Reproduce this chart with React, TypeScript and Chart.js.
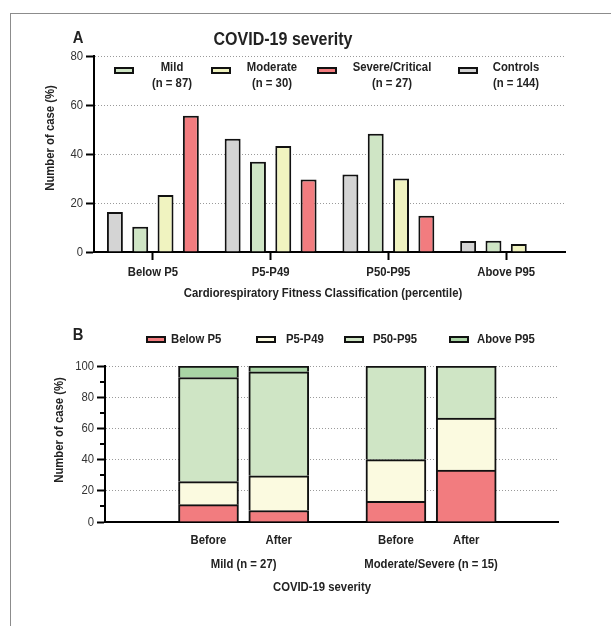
import React, { useEffect, useRef } from "react";
import { Chart, registerables } from "chart.js";

Chart.register(...registerables);

const FONT = "'Liberation Sans', Arial, 'DejaVu Sans', sans-serif";
const SQUEEZE = 0.87;

// ---------- Panel A data ----------
const fitnessCategories = ["Below P5", "P5-P49", "P50-P95", "Above P95"];
const controlsValues = [16.3, 46.2, 31.6, 4.5];
const mildValues = [10.3, 36.8, 48.3, 4.6];
const moderateValues = [23.3, 43.3, 30.0, 3.3];
const severeValues = [55.6, 29.6, 14.8, 0];
const panelAYMax = 80;
const panelAYStep = 20;

// ---------- Panel B data ----------
const timepointLabels = ["Before", "After", "Before", "After"];
const severityGroups = ["Mild (n = 27)", "Moderate/Severe (n = 15)"];
const belowP5Values = [11.1, 7.4, 13.3, 33.3];
const p5p49Values = [14.8, 22.2, 26.7, 33.3];
const p50p95Values = [66.7, 66.7, 60.0, 33.4];
const aboveP95Values = [7.4, 3.7, 0, 0];
const panelBYMax = 100;
const panelBYStep = 20;

// colours
const C_GRAY = "#d4d4d4";
const C_GREEN = "#cfe5c5";
const C_YELLOW = "#f0f3c0";
const C_RED = "#f27c7f";
const C_CREAM = "#fbfae0";
const C_DKGREEN = "#a9d5a5";
const EDGE = "#111111";

// layout of panel B bars on a linear axis (slot units)
const barSlot = (i: number) => 2 + Math.floor(i / 2) * 8 + (i % 2) * 3;
const groupCentre = (g: number) => 3.5 + g * 8;

type TextItem = {
  text: string;
  x: number;
  y: number;
  size?: number;
  bold?: boolean;
  align?: CanvasTextAlign;
  color?: string;
  rotate?: boolean;
  squeeze?: number;
};

function drawText(ctx: CanvasRenderingContext2D, t: TextItem) {
  ctx.save();
  ctx.font = `${t.bold === false ? "normal" : "bold"} ${t.size ?? 13}px ${FONT}`;
  ctx.fillStyle = t.color ?? "#222";
  ctx.textAlign = t.align ?? "center";
  ctx.textBaseline = "middle";
  ctx.translate(t.x, t.y);
  if (t.rotate) ctx.rotate(-Math.PI / 2);
  ctx.scale(t.squeeze ?? SQUEEZE, 1);
  ctx.fillText(t.text, 0, 0);
  ctx.restore();
}

function drawSwatch(ctx: CanvasRenderingContext2D, x: number, y: number, color: string) {
  ctx.save();
  ctx.fillStyle = color;
  ctx.fillRect(x, y, 20, 7);
  ctx.strokeStyle = EDGE;
  ctx.lineWidth = 2;
  ctx.strokeRect(x + 1, y + 1, 18, 5);
  ctx.restore();
}

function drawYTickLabels(ctx: CanvasRenderingContext2D, chart: any) {
  const ys = chart.scales.y;
  const left = chart.chartArea.left;
  ys.ticks.forEach((t: any, i: number) => {
    drawText(ctx, {
      text: String(t.value),
      x: left - 11,
      y: ys.getPixelForTick(i),
      bold: false,
      align: "right",
      color: "#333",
    });
  });
}

function yAxis(max: number, step: number, width: number) {
  return {
    min: 0,
    max,
    ticks: { stepSize: step, display: false },
    grid: {
      color: "#9a9a9a",
      lineWidth: 1,
      drawTicks: true,
      tickLength: 8,
      tickWidth: 2,
      tickColor: "#000",
      tickBorderDash: [],
    },
    border: { display: true, color: "#000", width: 2, dash: [1, 2] },
    afterFit: (s: any) => {
      s.width = width;
    },
  };
}

export default function App() {
  const refA = useRef<HTMLCanvasElement>(null);
  const refB = useRef<HTMLCanvasElement>(null);

  useEffect(() => {
    const decorA = {
      id: "decorA",
      afterDraw(chart: any) {
        const ctx = chart.ctx as CanvasRenderingContext2D;
        drawYTickLabels(ctx, chart);
        const xs = chart.scales.x;
        xs.ticks.forEach((t: any, i: number) => {
          drawText(ctx, { text: xs.getLabelForValue(t.value), x: xs.getPixelForTick(i), y: 272 });
        });
        drawText(ctx, { text: "A", x: 78, y: 38, size: 17 });
        drawText(ctx, { text: "COVID-19 severity", x: 283, y: 40, size: 18, squeeze: 0.89 });
        const legend = [
          { sx: 114, cx: 172, name: "Mild", n: "(n = 87)", color: C_GREEN },
          { sx: 211, cx: 272, name: "Moderate", n: "(n = 30)", color: C_YELLOW },
          { sx: 317, cx: 392, name: "Severe/Critical", n: "(n = 27)", color: C_RED },
          { sx: 458, cx: 516, name: "Controls", n: "(n = 144)", color: C_GRAY },
        ];
        for (const l of legend) {
          drawSwatch(ctx, l.sx, 67, l.color);
          drawText(ctx, { text: l.name, x: l.cx, y: 67 });
          drawText(ctx, { text: l.n, x: l.cx, y: 83 });
        }
        drawText(ctx, {
          text: "Cardiorespiratory Fitness Classification (percentile)",
          x: 323,
          y: 293,
        });
        drawText(ctx, { text: "Number of case (%)", x: 50, y: 138, rotate: true });
      },
    };

    const decorB = {
      id: "decorB",
      afterDraw(chart: any) {
        const ctx = chart.ctx as CanvasRenderingContext2D;
        const left = chart.chartArea.left;
        const ys = chart.scales.y;
        ctx.save();
        ctx.strokeStyle = "#000";
        ctx.lineWidth = 2;
        for (let v = panelBYStep / 2; v < panelBYMax; v += panelBYStep) {
          const y = Math.round(ys.getPixelForValue(v));
          ctx.beginPath();
          ctx.moveTo(left - 5, y);
          ctx.lineTo(left, y);
          ctx.stroke();
        }
        ctx.restore();
        drawYTickLabels(ctx, chart);
        const xs = chart.scales.x;
        xs.ticks.forEach((_t: any, i: number) => {
          drawText(ctx, { text: timepointLabels[i], x: xs.getPixelForTick(i), y: 235 });
        });
        drawText(ctx, { text: "B", x: 78, y: 30, size: 17 });
        const legend = [
          { sx: 146, tx: 171, name: "Below P5", color: C_RED },
          { sx: 256, tx: 286, name: "P5-P49", color: C_CREAM },
          { sx: 344, tx: 373, name: "P50-P95", color: C_GREEN },
          { sx: 449, tx: 477, name: "Above P95", color: C_DKGREEN },
        ];
        for (const l of legend) {
          drawSwatch(ctx, l.sx, 31, l.color);
          drawText(ctx, { text: l.name, x: l.tx, y: 34, align: "left" });
        }
        severityGroups.forEach((g, i) => {
          drawText(ctx, { text: g, x: xs.getPixelForValue(groupCentre(i)), y: 259 });
        });
        drawText(ctx, { text: "COVID-19 severity", x: 322, y: 282 });
        drawText(ctx, { text: "Number of case (%)", x: 59, y: 125, rotate: true });
      },
    };

    const barCommon = {
      borderColor: EDGE,
      borderWidth: 2,
      barPercentage: 0.63,
      categoryPercentage: 0.86,
    };

    const chartA = new Chart(refA.current as HTMLCanvasElement, {
      type: "bar",
      data: {
        labels: fitnessCategories,
        datasets: [
          { label: "Controls (n = 144)", data: controlsValues, backgroundColor: C_GRAY, ...barCommon },
          { label: "Mild (n = 87)", data: mildValues, backgroundColor: C_GREEN, ...barCommon },
          { label: "Moderate (n = 30)", data: moderateValues, backgroundColor: C_YELLOW, ...barCommon },
          { label: "Severe/Critical (n = 27)", data: severeValues, backgroundColor: C_RED, ...barCommon },
        ],
      },
      options: {
        animation: false,
        responsive: false,
        devicePixelRatio: 1,
        layout: { padding: { left: 0, right: 46, top: 56, bottom: 0 } },
        plugins: {
          legend: { display: false },
          tooltip: { enabled: false },
          title: { display: false },
        },
        scales: {
          x: {
            type: "category",
            offset: true,
            grid: {
              display: true,
              drawOnChartArea: false,
              drawTicks: true,
              tickLength: 8,
              tickWidth: 2,
              tickColor: "#000",
              color: "#000",
              offset: false,
            },
            border: { display: true, color: "#000", width: 2 },
            ticks: { display: false, autoSkip: false },
            afterFit: (s: any) => {
              s.height = 53;
            },
          },
          y: yAxis(panelAYMax, panelAYStep, 94) as any,
        },
      },
      plugins: [decorA],
    });

    const stackCommon = { borderColor: EDGE, borderWidth: 2, barThickness: 60 };
    const toPoints = (vals: number[]) => vals.map((v, i) => ({ x: barSlot(i), y: v }));

    const chartB = new Chart(refB.current as HTMLCanvasElement, {
      type: "bar",
      data: {
        datasets: [
          { label: "Below P5", data: toPoints(belowP5Values), backgroundColor: C_RED, ...stackCommon },
          { label: "P5-P49", data: toPoints(p5p49Values), backgroundColor: C_CREAM, ...stackCommon },
          { label: "P50-P95", data: toPoints(p50p95Values), backgroundColor: C_GREEN, ...stackCommon },
          { label: "Above P95", data: toPoints(aboveP95Values), backgroundColor: C_DKGREEN, ...stackCommon },
        ] as any,
      },
      options: {
        animation: false,
        responsive: false,
        devicePixelRatio: 1,
        layout: { padding: { left: 0, right: 53, top: 61, bottom: 0 } },
        plugins: {
          legend: { display: false },
          tooltip: { enabled: false },
          title: { display: false },
        },
        scales: {
          x: {
            type: "linear",
            min: 0,
            max: 14.5,
            stacked: true,
            afterBuildTicks: (s: any) => {
              s.ticks = timepointLabels.map((_, i) => ({ value: barSlot(i) }));
            },
            ticks: { display: false, autoSkip: false },
            grid: { display: false, drawTicks: false, drawOnChartArea: false },
            border: { display: true, color: "#000", width: 2 },
            afterFit: (s: any) => {
              s.height = 104;
            },
          },
          y: { ...(yAxis(panelBYMax, panelBYStep, 105) as any), stacked: true },
        },
      },
      plugins: [decorB],
    });

    return () => {
      chartA.destroy();
      chartB.destroy();
    };
  }, []);

  return (
    <div
      style={{
        position: "absolute",
        left: 0,
        top: 0,
        width: 611,
        height: 626,
        overflow: "hidden",
        background: "#fff",
      }}
    >
      <div
        style={{
          position: "absolute",
          left: 10,
          top: 13,
          width: 640,
          height: 660,
          borderLeft: "1px solid #8c8c8c",
          borderTop: "1px solid #8c8c8c",
        }}
      />
      <canvas
        ref={refA}
        width={611}
        height={305}
        style={{ position: "absolute", left: 0, top: 0 }}
      />
      <canvas
        ref={refB}
        width={611}
        height={321}
        style={{ position: "absolute", left: 0, top: 305 }}
      />
    </div>
  );
}
